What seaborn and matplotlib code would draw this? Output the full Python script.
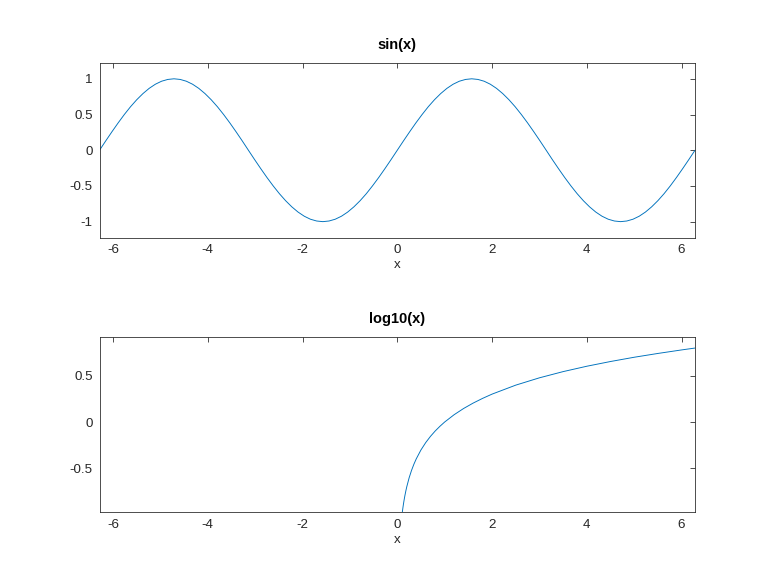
import matplotlib
matplotlib.use("Agg")
import matplotlib.pyplot as plt
import seaborn as sns

# -----------------------------
# DATA
# -----------------------------
sin_x = [-6.283, -6.152, -6.021, -5.890, -5.760, -5.629, -5.498, -5.367,
         -5.236, -5.105, -4.974, -4.843, -4.712, -4.581, -4.451, -4.320,
         -4.189, -4.058, -3.927, -3.796, -3.665, -3.534, -3.403, -3.272,
         -3.142, -3.011, -2.880, -2.749, -2.618, -2.487, -2.356, -2.225,
         -2.094, -1.963, -1.833, -1.702, -1.571, -1.440, -1.309, -1.178,
         -1.047, -0.916, -0.785, -0.654, -0.524, -0.393, -0.262, -0.131,
         0.000,
         0.131, 0.262, 0.393, 0.524, 0.654, 0.785, 0.916, 1.047,
         1.178, 1.309, 1.440, 1.571, 1.702, 1.833, 1.963, 2.094,
         2.225, 2.356, 2.487, 2.618, 2.749, 2.880, 3.011, 3.142,
         3.272, 3.403, 3.534, 3.665, 3.796, 3.927, 4.058, 4.189,
         4.320, 4.451, 4.581, 4.712, 4.843, 4.974, 5.105, 5.236,
         5.367, 5.498, 5.629, 5.760, 5.890, 6.021, 6.152, 6.283]
sin_y = [0.000, 0.131, 0.259, 0.383, 0.500, 0.609, 0.707, 0.793,
         0.866, 0.924, 0.966, 0.991, 1.000, 0.991, 0.966, 0.924,
         0.866, 0.793, 0.707, 0.609, 0.500, 0.383, 0.259, 0.131,
         0.000, -0.131, -0.259, -0.383, -0.500, -0.609, -0.707, -0.793,
         -0.866, -0.924, -0.966, -0.991, -1.000, -0.991, -0.966, -0.924,
         -0.866, -0.793, -0.707, -0.609, -0.500, -0.383, -0.259, -0.131,
         0.000,
         0.131, 0.259, 0.383, 0.500, 0.609, 0.707, 0.793, 0.866,
         0.924, 0.966, 0.991, 1.000, 0.991, 0.966, 0.924, 0.866,
         0.793, 0.707, 0.609, 0.500, 0.383, 0.259, 0.131, 0.000,
         -0.131, -0.259, -0.383, -0.500, -0.609, -0.707, -0.793, -0.866,
         -0.924, -0.966, -0.991, -1.000, -0.991, -0.966, -0.924, -0.866,
         -0.793, -0.707, -0.609, -0.500, -0.383, -0.259, -0.131, 0.000]

log_x = [0.106, 0.11, 0.12, 0.13, 0.14, 0.15, 0.16, 0.18, 0.20, 0.25,
         0.30, 0.35, 0.40, 0.50, 0.60, 0.70, 0.80, 0.90, 1.00, 1.20,
         1.40, 1.60, 1.80, 2.00, 2.50, 3.00, 3.50, 4.00, 4.50, 5.00,
         5.50, 6.00, 6.28]
log_y = [-0.975, -0.959, -0.921, -0.886, -0.854, -0.824, -0.796, -0.745,
         -0.699, -0.602, -0.523, -0.456, -0.398, -0.301, -0.222, -0.155,
         -0.097, -0.046, 0.000, 0.079, 0.146, 0.204, 0.255, 0.301,
         0.398, 0.477, 0.544, 0.602, 0.653, 0.699, 0.740, 0.778, 0.798]

x_ticks = [-6, -4, -2, 0, 2, 4, 6]
x_labels = ["-6", "-4", "-2", "0", "2", "4", "6"]
sin_yticks = [-1, -0.5, 0, 0.5, 1]
sin_ylabels = ["-1", "-0.5", "0", "0.5", "1"]
log_yticks = [-0.5, 0, 0.5]
log_ylabels = ["-0.5", "0", "0.5"]

# -----------------------------
# STYLE
# -----------------------------
sns.set_theme(style="white")
plt.rcParams['font.family'] = ['Liberation Sans', 'DejaVu Sans']
plt.rcParams['axes.unicode_minus'] = False

line_color = "#0072BD"
axis_color = "#262626"

fig = plt.figure(figsize=(8, 6), dpi=96)
ax1 = fig.add_axes([0.1296, 0.5873, 0.7754, 0.3038])
ax2 = fig.add_axes([0.1296, 0.1105, 0.7754, 0.3050])

sns.lineplot(x=sin_x, y=sin_y, ax=ax1, color=line_color, linewidth=0.7,
             estimator=None, sort=False)
sns.lineplot(x=log_x, y=log_y, ax=ax2, color=line_color, linewidth=0.7,
             estimator=None, sort=False)


def style_axis(ax, title, yticks, ylabels, ylim):
    ax.set_xlim(-6.2832, 6.2832)
    ax.set_ylim(*ylim)
    ax.set_xticks(x_ticks)
    ax.set_xticklabels(x_labels)
    ax.set_yticks(yticks)
    ax.set_yticklabels(ylabels)
    for s in ax.spines.values():
        s.set_visible(True)
        s.set_color(axis_color)
        s.set_linewidth(0.6)
    ax.tick_params(direction="in", length=4, width=0.6, top=True, right=True,
                   labelsize=10, colors=axis_color, pad=5)
    ax.set_title(title, fontsize=11, fontweight="bold", color="black", pad=10)
    ax.set_xlabel("x", fontsize=10, color=axis_color, labelpad=2)
    ax.set_ylabel("")


style_axis(ax1, "sin(x)", sin_yticks, sin_ylabels, (-1.225, 1.225))
style_axis(ax2, "log10(x)", log_yticks, log_ylabels, (-0.975, 0.921))

fig.savefig("out.png", dpi=96, facecolor="white")
